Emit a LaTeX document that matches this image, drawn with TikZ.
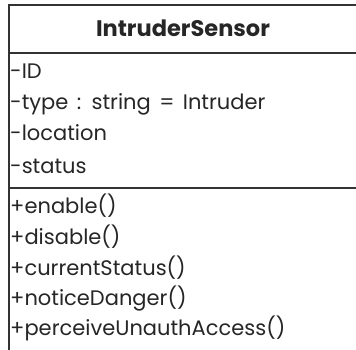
\documentclass[tikz,border=0pt]{standalone}
\usepackage{fontspec}
\setmainfont{Poppins}[WordSpace=1.5]
\newfontfamily\titlefont{Poppins}[UprightFont=* Bold]
\begin{document}
\begin{tikzpicture}[x=1pt,y=-1pt,
  frame/.style={draw=black!80,line width=2pt},
  member/.style={anchor=base west,inner sep=0pt,font=\fontsize{21}{21}\selectfont,text=black!85},
  classname/.style={anchor=base,inner sep=0pt,font=\titlefont\fontsize{22.5}{22.5}\selectfont,text=black!85}]
\useasboundingbox (0,0) rectangle (356,350);
% class box, running past the right and bottom edges
\coordinate (nw) at (9,5);
\coordinate (se) at (370,370);
\draw[frame] (nw) rectangle (se);
\draw[frame] (9,53) coordinate (d1) -- (370,53);
\draw[frame] (9,188) coordinate (d2) -- (370,188);
% class name
\node[classname] (name) at (183,37) {IntruderSensor};
% attributes
\node[member] (a1) at (10,79) {-ID};
\node[member] (a2) at (10,110) {-type : string = Intruder};
\node[member] (a3) at (10,141) {-location};
\node[member] (a4) at (10,173) {-status};
% operations
\node[member] (m1) at (10,213) {+enable()};
\node[member] (m2) at (10,244) {+disable()};
\node[member] (m3) at (10,275) {+currentStatus()};
\node[member] (m4) at (10,305) {+noticeDanger()};
\node[member] (m5) at (10,335) {+perceiveUnauthAccess()};
\end{tikzpicture}
\end{document}
